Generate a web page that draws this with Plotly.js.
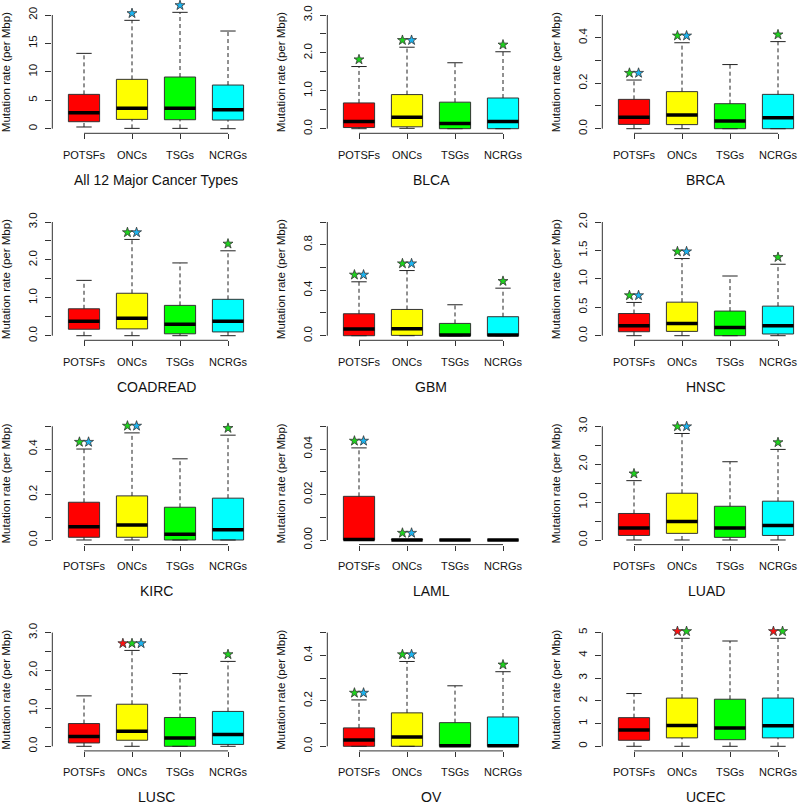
<!DOCTYPE html>
<html>
<head>
<meta charset="utf-8">
<script src="https://cdn.plot.ly/plotly-3.0.1.min.js"></script>
<style>
  html, body { margin: 0; padding: 0; background: #fff; }
  #plot { width: 798px; height: 804px; }
</style>
</head>
<body>
<div id="plot"></div>
<script>
// four gene groups, one box each, in 12 cancer panels
const groups = ["POTSFs", "ONCs", "TSGs", "NCRGs"];
const boxColors = ["#ff0000", "#ffff00", "#00ff00", "#00ffff"];
const panelNames = ["All 12 Major Cancer Types", "BLCA", "BRCA", "COADREAD", "GBM", "HNSC",
                    "KIRC", "LAML", "LUAD", "LUSC", "OV", "UCEC"];

// upper whisker, Q3, median, Q1, lower whisker (mutations per Mbp)
const hiVals = [
  [13.25, 19.06, 20.47, 17.18],
  [1.64, 2.15, 1.74, 2.03],
  [0.214, 0.378, 0.282, 0.383],
  [1.46, 2.54, 1.92, 2.24],
  [0.474, 0.573, 0.272, 0.418],
  [0.585, 1.357, 1.05, 1.257],
  [0.40, 0.471, 0.357, 0.461],
  [0.0405, 0, 0, 0],
  [1.566, 2.81, 2.065, 2.39],
  [1.33, 2.53, 1.92, 2.24],
  [0.204, 0.373, 0.266, 0.328],
  [2.32, 4.75, 4.63, 4.75]
];
const q3Vals = [
  [6.04, 8.68, 9.09, 7.68],
  [0.68, 0.90, 0.70, 0.81],
  [0.129, 0.163, 0.11, 0.151],
  [0.71, 1.12, 0.80, 0.96],
  [0.193, 0.231, 0.108, 0.167],
  [0.39, 0.59, 0.433, 0.52],
  [0.166, 0.194, 0.144, 0.184],
  [0.0192, 0.0003, 0, 0],
  [0.70, 1.234, 0.89, 1.024],
  [0.60, 1.11, 0.76, 0.92],
  [0.081, 0.147, 0.104, 0.129],
  [1.26, 2.12, 2.07, 2.12]
];
const medVals = [
  [2.8, 3.58, 3.58, 3.34],
  [0.19, 0.30, 0.14, 0.19],
  [0.05, 0.06, 0.034, 0.048],
  [0.38, 0.46, 0.30, 0.38],
  [0.058, 0.061, 0.006, 0.006],
  [0.175, 0.216, 0.146, 0.175],
  [0.058, 0.066, 0.025, 0.045],
  [0.0002, 0, 0, 0],
  [0.315, 0.49, 0.315, 0.385],
  [0.256, 0.40, 0.22, 0.31],
  [0.028, 0.041, 0.002, 0.002],
  [0.72, 0.91, 0.81, 0.90]
];
const q1Vals = [
  [1.23, 1.64, 1.58, 1.52],
  [0.03, 0.05, 0, 0],
  [0.019, 0.018, 0, 0],
  [0.17, 0.18, 0.05, 0.10],
  [0, 0.003, 0, 0],
  [0.07, 0.076, 0, 0.03],
  [0.012, 0.012, 0, 0],
  [0, 0, 0, 0],
  [0.12, 0.175, 0.07, 0.12],
  [0.088, 0.16, 0, 0.05],
  [0, 0, 0, 0],
  [0.265, 0.37, 0.29, 0.37]
];
const loVals = [
  [0.3, 0.06, 0.06, 0],
  [0, 0.01, 0, 0],
  [0, 0, 0, 0],
  [0, 0, 0, 0],
  [0, 0, 0, 0],
  [0, 0, 0, 0],
  [0, 0, 0, 0],
  [0, 0, 0, 0],
  [0, 0, 0, 0],
  [0, 0, 0, 0],
  [0, 0, 0, 0],
  [0, 0, 0, 0]
];

// significance stars drawn above each box
const starSets = [
  [[], ["b"], ["b"], []],
  [["g"], ["g", "b"], [], ["g"]],
  [["g", "b"], ["g", "b"], [], ["g"]],
  [[], ["g", "b"], [], ["g"]],
  [["g", "b"], ["g", "b"], [], ["g"]],
  [["g", "b"], ["g", "b"], [], ["g"]],
  [["g", "b"], ["g", "b"], [], ["g"]],
  [["g", "b"], ["g", "b"], [], []],
  [["g"], ["g", "b"], [], ["g"]],
  [[], ["r", "g", "b"], [], ["g"]],
  [["g", "b"], ["g", "b"], [], ["g"]],
  [[], ["r", "g"], [], ["r", "g"]]
];
const starColors = { r: "#ff1010", g: "#1ed21e", b: "#1cb4f0" };

// y axis ticks
const tickTop = [20, 3, 0.5, 3, 1.0, 2, 0.5, 0.05, 3, 3, 0.5, 5];
const tickStep = [5, 0.5, 0.1, 0.5, 0.2, 0.5, 0.1, 0.01, 0.5, 0.5, 0.1, 1];
const labelEvery = [1, 2, 2, 2, 2, 1, 2, 2, 2, 2, 2, 1];
const tickDecimals = [0, 1, 1, 1, 1, 1, 1, 2, 1, 1, 1, 0];

// page geometry (pixels)
const W = 798, H = 804;
const firstCatPx = [84, 359, 634];
const zeroPx = [128.7, 335.7, 540, 746.3];
const unitPx = 48, tickSpanPx = 113.7;
const boxW = 0.65, capW = 0.16;

const font = "Liberation Sans, Arial, sans-serif";
const traces = [];
const shapes = [];
const annotations = [];
const layout = {
  width: W, height: H,
  margin: { l: 0, r: 0, t: 0, b: 0 },
  paper_bgcolor: "#fff", plot_bgcolor: "rgba(0,0,0,0)",
  showlegend: false,
  font: { family: font, size: 11, color: "#111" }
};

panelNames.forEach((name, p) => {
  const col = p % 3, row = Math.floor(p / 3);
  const n = p + 1;
  const xa = n === 1 ? "x" : "x" + n;
  const ya = n === 1 ? "y" : "y" + n;
  const top = tickTop[p];
  const perPx = top / tickSpanPx;

  const leftPx = firstCatPx[col] - 0.66 * unitPx;
  const rightPx = Math.min(W, leftPx + 4.32 * unitPx);
  const xr = [0.34, 0.34 + (rightPx - leftPx) / unitPx];

  const botPx = zeroPx[row] + 4.6;
  const topPx = Math.max(0, zeroPx[row] - tickSpanPx - 24);
  const yr = [-(botPx - zeroPx[row]) * perPx, (zeroPx[row] - topPx) * perPx];

  const tv = [], tt = [];
  const nt = Math.round(top / tickStep[p]);
  for (let k = 0; k <= nt; k++) {
    const v = k * tickStep[p];
    tv.push(v);
    tt.push(k % labelEvery[p] === 0 ? v.toFixed(tickDecimals[p]) : "");
  }

  layout[n === 1 ? "xaxis" : "xaxis" + n] = {
    domain: [leftPx / W, rightPx / W], range: xr, anchor: ya,
    tickvals: [1, 2, 3, 4], ticktext: groups,
    ticks: "outside", ticklen: 5, tickwidth: 1, tickcolor: "#333",
    ticklabelstandoff: 6,
    showline: false, showgrid: false, zeroline: false, fixedrange: true,
    tickfont: { family: font, size: 11, color: "#111" }
  };
  layout[n === 1 ? "yaxis" : "yaxis" + n] = {
    domain: [1 - botPx / H, 1 - topPx / H], range: yr, anchor: xa,
    tickvals: tv, ticktext: tt, tickangle: -90,
    ticks: "outside", ticklen: 6, tickwidth: 1, tickcolor: "#333",
    ticklabelstandoff: 4,
    showline: false, showgrid: false, zeroline: false, fixedrange: true,
    tickfont: { family: font, size: 11.5, color: "#111" }
  };

  // axis lines, R style: only between first and last tick
  shapes.push({ type: "line", xref: xa + " domain", yref: ya, x0: 0, x1: 0, y0: 0, y1: top,
                line: { color: "#333", width: 1 } });
  shapes.push({ type: "line", xref: xa, yref: ya + " domain", x0: 1, x1: 4, y0: 0, y1: 0,
                line: { color: "#333", width: 1 } });

  annotations.push({ text: "Mutation rate (per Mbp)", xref: xa + " domain", yref: ya,
                     x: 0, y: top / 2, xshift: -46, textangle: -90, showarrow: false,
                     xanchor: "center", yanchor: "middle",
                     font: { family: font, size: 11.5, color: "#111" } });
  annotations.push({ text: name, xref: xa, yref: ya + " domain", x: 2.5, y: 0, yshift: -46.5,
                     showarrow: false, xanchor: "center", yanchor: "middle",
                     font: { family: font, size: 14, color: "#111" } });

  const xs = [1, 2, 3, 4];
  const wx = [], wy = [], cx = [], cy = [], mx = [], my = [];
  xs.forEach((x, i) => {
    wx.push(x, x, null, x, x, null);
    wy.push(q3Vals[p][i], hiVals[p][i], null, loVals[p][i], q1Vals[p][i], null);
    cx.push(x - capW, x + capW, null, x - capW, x + capW, null);
    cy.push(hiVals[p][i], hiVals[p][i], null, loVals[p][i], loVals[p][i], null);
    mx.push(x - boxW / 2, x + boxW / 2, null);
    my.push(medVals[p][i], medVals[p][i], null);
  });

  traces.push({ type: "scatter", mode: "lines", x: wx, y: wy, xaxis: xa, yaxis: ya,
                line: { color: "#222", width: 1, dash: "4px,3px" }, hoverinfo: "skip" });
  traces.push({ type: "bar", x: xs, y: xs.map((_, i) => q3Vals[p][i] - q1Vals[p][i]),
                base: q1Vals[p], width: boxW, xaxis: xa, yaxis: ya,
                marker: { color: boxColors, line: { color: "#333", width: 1 } },
                hoverinfo: "skip" });
  traces.push({ type: "scatter", mode: "lines", x: cx, y: cy, xaxis: xa, yaxis: ya,
                line: { color: "#222", width: 1 }, hoverinfo: "skip" });
  traces.push({ type: "scatter", mode: "lines", x: mx, y: my, xaxis: xa, yaxis: ya,
                line: { color: "#000", width: 3.5 }, hoverinfo: "skip" });

  const sx = [], sy = [], sc = [];
  starSets[p].forEach((set, i) => {
    set.forEach((s, k) => {
      sx.push(xs[i] + (k - (set.length - 1) / 2) * 0.19);
      sy.push(hiVals[p][i] + 7 * perPx);
      sc.push(starColors[s]);
    });
  });
  traces.push({ type: "scatter", mode: "markers", x: sx, y: sy, xaxis: xa, yaxis: ya,
                marker: { symbol: "star", size: 7.5, color: sc, line: { color: "#333", width: 0.8 } },
                hoverinfo: "skip" });
});

layout.shapes = shapes;
layout.annotations = annotations;

Plotly.newPlot("plot", traces, layout, { staticPlot: true });
</script>
</body>
</html>
